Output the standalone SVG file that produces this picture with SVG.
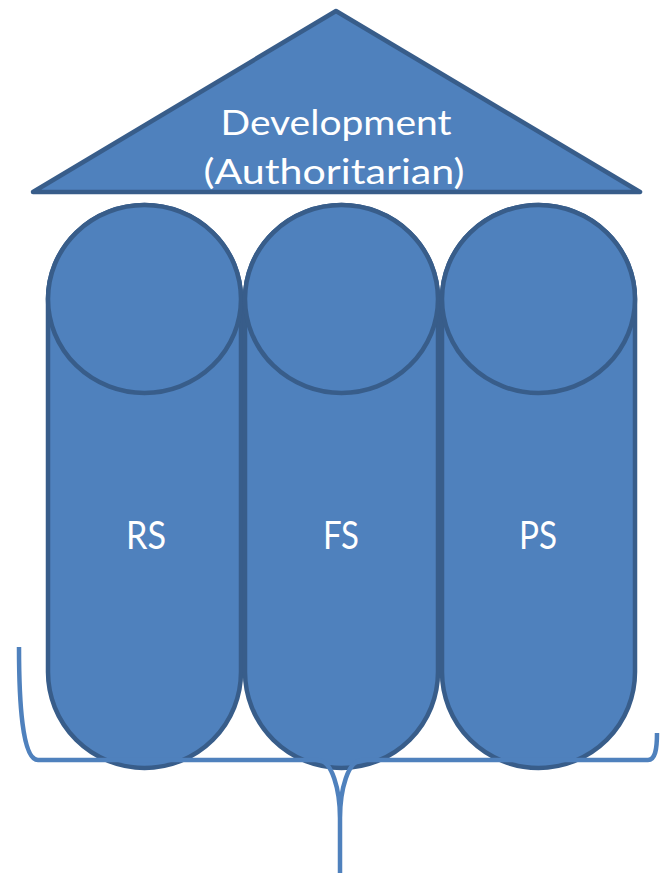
<svg xmlns="http://www.w3.org/2000/svg" width="660" height="873" viewBox="0 0 660 873">
<style>
.shape{fill:#4f81bd;stroke:#385d8a;stroke-width:4.5;stroke-linejoin:round}
.lbl{font-family:Lato,"Liberation Sans",Arial,sans-serif;fill:#ffffff;text-anchor:middle}
.brace{fill:none;stroke:#4f81bd;stroke-width:4.5;stroke-linejoin:round;stroke-linecap:butt}
</style>
<rect width="660" height="873" fill="#ffffff"/>
<g id="roof">
<polygon class="shape" points="33,192 336,11 640,192"/>
<text class="lbl" x="336" y="135" font-size="35" textLength="231" lengthAdjust="spacingAndGlyphs">Development</text>
<text class="lbl" x="334" y="184" font-size="35" textLength="261" lengthAdjust="spacingAndGlyphs">(Authoritarian)</text>
</g>
<g id="pillar-rs">
<path class="shape" d="M48,299 A96.5,94 0 0 1 241,299 L241,672 A96.5,96 0 0 1 48,672 Z"/>
<ellipse class="shape" cx="144.5" cy="299" rx="96.5" ry="94"/>
<text class="lbl" x="146" y="549" font-size="38" textLength="40" lengthAdjust="spacingAndGlyphs">RS</text>
</g>
<g id="pillar-fs">
<path class="shape" d="M245,299 A96.5,94 0 0 1 438,299 L438,672 A96.5,96 0 0 1 245,672 Z"/>
<ellipse class="shape" cx="341.5" cy="299" rx="96.5" ry="94"/>
<text class="lbl" x="341" y="549" font-size="38" textLength="36" lengthAdjust="spacingAndGlyphs">FS</text>
</g>
<g id="pillar-ps">
<path class="shape" d="M442,299 A96.5,94 0 0 1 635,299 L635,672 A96.5,96 0 0 1 442,672 Z"/>
<ellipse class="shape" cx="538.5" cy="299" rx="96.5" ry="94"/>
<text class="lbl" x="538" y="549" font-size="38" textLength="38" lengthAdjust="spacingAndGlyphs">PS</text>
</g>
<g id="connectors">
<path class="brace" d="M19,647 C19,700 22,760 38,760 L318,760 C332,760 340,790 340,818 L340,873 M340,818 C340,790 348,760 362,760 L648,760 C655,760 657,750 657,733"/>
</g>
</svg>
